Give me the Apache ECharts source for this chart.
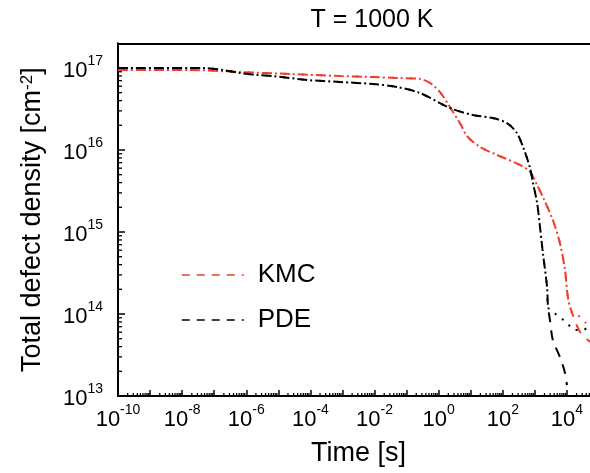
<!DOCTYPE html>
<html>
<head>
<meta charset="utf-8">
<script src="https://cdn.jsdelivr.net/npm/echarts@6/dist/echarts.min.js"></script>
<style>
  html, body { margin: 0; padding: 0; background: #fff; }
  #chart { width: 590px; height: 473px; }
</style>
</head>
<body>
<div id="chart"></div>
<script>
// ---- data ----
const kmcTime  = [1e-10, 1.78e-8, 6.31e-7, 2.29e-5, 8.32e-4, 8.91e-3, 5.01e-2, 0.263, 0.537, 1.10, 2.24, 4.57, 8.13, 19.5, 66, 347, 708, 1175, 1778, 3631, 6026, 8710, 10715, 14454, 25704, 52481];
const kmcValue = [9.46e16, 9.46e16, 8.93e16, 8.45e16, 7.98e16, 7.76e16, 7.55e16, 7.35e16, 6.56e16, 5.09e16, 3.34e16, 2.13e16, 1.44e16, 1.09e16, 8.69e15, 6.56e15, 5.40e15, 3.74e15, 2.67e15, 1.40e15, 7.35e14, 3.44e14, 1.61e14, 1.03e14, 6.03e13, 4.57e13];
// dotted KMC branch (same path, then levels off)
const kmcDotTime  = [1e-10, 1.78e-8, 6.31e-7, 2.29e-5, 8.32e-4, 8.91e-3, 5.01e-2, 0.263, 0.537, 1.10, 2.24, 4.57, 8.13, 19.5, 66, 347, 708, 1175, 1778, 3631, 6026, 8710, 10715, 14454, 20417, 37000, 52481];
const kmcDotValue = [9.46e16, 9.46e16, 8.93e16, 8.45e16, 7.98e16, 7.76e16, 7.55e16, 7.35e16, 6.56e16, 5.09e16, 3.34e16, 2.13e16, 1.44e16, 1.09e16, 8.69e15, 6.56e15, 5.40e15, 3.74e15, 2.67e15, 1.40e15, 7.35e14, 3.44e14, 1.61e14, 1.03e14, 1.00e14, 7.9e13, 7.76e13];

const pdeTime  = [1e-10, 4.47e-8, 1.86e-7, 6.31e-7, 2.14e-6, 6.76e-6, 7.76e-5, 8.32e-4, 8.91e-3, 5.01e-2, 0.263, 2.24, 11.7, 49, 135, 275, 427, 708, 871, 1175, 1445, 1778, 2399, 2570, 2951, 3631, 6026, 8710, 10000];
const pdeValue = [1.00e17, 1.00e17, 9.46e16, 8.69e16, 8.22e16, 7.98e16, 7.14e16, 6.75e16, 6.38e16, 5.86e16, 4.95e16, 3.25e16, 2.67e16, 2.45e16, 2.13e16, 1.61e16, 1.09e16, 6.03e15, 3.98e15, 2.26e15, 1.15e15, 5.55e14, 2.14e14, 1.22e14, 8.45e13, 4.82e13, 2.99e13, 1.91e13, 1.36e13];
// dotted PDE branch
const pdeDotTime  = [1e-10, 4.47e-8, 1.86e-7, 6.31e-7, 2.14e-6, 6.76e-6, 7.76e-5, 8.32e-4, 8.91e-3, 5.01e-2, 0.263, 2.24, 11.7, 49, 135, 275, 427, 708, 871, 1175, 1445, 1778, 2399, 2570, 6026, 10000, 17783, 31623, 52481];
const pdeDotValue = [1.00e17, 1.00e17, 9.46e16, 8.69e16, 8.22e16, 7.98e16, 7.14e16, 6.75e16, 6.38e16, 5.86e16, 4.95e16, 3.25e16, 2.67e16, 2.45e16, 2.13e16, 1.61e16, 1.09e16, 6.03e15, 3.98e15, 2.26e15, 1.15e15, 5.55e14, 2.14e14, 1.22e14, 9.19e13, 7.76e13, 6.38e13, 6.38e13, 7.35e13];

const xMin = 1e-10, xMax = 1e5;
const yMin = 1e13, yMax = 2e17;
const xDecades = [-10, -9, -8, -7, -6, -5, -4, -3, -2, -1, 0, 1, 2, 3, 4];
const yDecades = [13, 14, 15, 16];
const minorMultipliers = [2, 3, 4, 5, 6, 7, 8, 9];

const seriesTitle = 'T = 1000 K';
const xTitle = 'Time [s]';
const yTitle = 'Total defect density [cm{s|-2}]';

// ---- build ----
const FONT = '"Liberation Sans", Arial, sans-serif';
const RED = '#f23c2e';
const zip = (a, b) => a.map((v, i) => [v, b[i]]);

const xMinor = [];
xDecades.forEach(e => minorMultipliers.forEach(m => xMinor.push([m * Math.pow(10, e), 1e15])));
const yMinor = [];
yDecades.forEach(e => minorMultipliers.forEach(m => yMinor.push([1, m * Math.pow(10, e)])));

function powLabel(v) {
  const l = Math.log10(v);
  const e = Math.round(l);
  if (Math.abs(l - e) > 1e-6) return '';
  return e;
}
const richLabel = {
  b: { fontSize: 22, fontFamily: FONT, color: '#000', verticalAlign: 'bottom', lineHeight: 28 },
  s: { fontSize: 14, fontFamily: FONT, color: '#000', verticalAlign: 'top', lineHeight: 28 }
};

const chart = echarts.init(document.getElementById('chart'), null, { renderer: 'canvas' });
chart.setOption({
  animation: false,
  backgroundColor: '#fff',
  title: {
    text: seriesTitle, left: 367, top: 3, textAlign: 'center',
    textStyle: { fontFamily: FONT, fontSize: 25, fontWeight: 'normal', color: '#000' }
  },
  legend: {
    data: ['KMC', 'PDE'],
    orient: 'vertical', left: 176, top: 257,
    itemWidth: 62, itemHeight: 14, itemGap: 19,
    itemStyle: { opacity: 0 },
    lineStyle: { type: [8, 7], width: 1.5, opacity: 1 },
    textStyle: { fontFamily: FONT, fontSize: 26, color: '#000', padding: [0, 0, 0, 9] }
  },
  grid: { left: 118, top: 43.3, width: 481, height: 352.7, outerBoundsMode: 'none', containLabel: false },
  xAxis: [{
    type: 'log', logBase: 10, min: xMin, max: xMax, interval: 1,
    position: 'bottom',
    axisLine: { show: true, lineStyle: { color: '#000', width: 2 } },
    axisTick: { show: true, inside: true, length: 6, lineStyle: { color: '#000', width: 1.5 } },
    splitLine: { show: false },
    axisLabel: {
      margin: 7, fontFamily: FONT,
      formatter: v => { const e = powLabel(v); return (e === '' || e % 2 !== 0) ? '' : '{b|10}{s|' + e + '}'; },
      rich: richLabel
    },
    name: xTitle, nameLocation: 'middle', nameGap: 44,
    nameTextStyle: { fontFamily: FONT, fontSize: 27, color: '#000' }
  }, {
    type: 'log', logBase: 10, min: xMin, max: xMax, interval: 1,
    position: 'top',
    axisLine: { show: true, lineStyle: { color: '#000', width: 2 } },
    axisTick: { show: false }, axisLabel: { show: false }, splitLine: { show: false }
  }],
  yAxis: {
    type: 'log', logBase: 10, min: yMin, max: yMax, interval: 1,
    axisLine: { show: true, lineStyle: { color: '#000', width: 2 } },
    axisTick: { show: true, inside: true, length: 7, lineStyle: { color: '#000', width: 1.5 } },
    splitLine: { show: false },
    axisLabel: {
      margin: 15, fontFamily: FONT,
      formatter: v => { const e = powLabel(v); return e === '' ? '' : '{b|10}{s|' + e + '}'; },
      rich: richLabel
    },
    name: yTitle, nameLocation: 'middle', nameGap: 72, nameRotate: 90,
    nameTextStyle: {
      fontFamily: FONT, fontSize: 27, color: '#000',
      rich: { s: { fontFamily: FONT, fontSize: 17, color: '#000', verticalAlign: 'top' } }
    }
  },
  series: [
    { name: 'KMC', type: 'line', data: zip(kmcTime, kmcValue), symbol: 'none', showSymbol: false, smooth: 0.3,
      lineStyle: { color: RED, width: 2, type: [10, 8] }, itemStyle: { color: RED }, z: 3 },
    { name: 'KMC dotted', type: 'line', data: zip(kmcDotTime, kmcDotValue), symbol: 'none', smooth: 0.3,
      lineStyle: { color: RED, width: 2, type: [2, 7], dashOffset: 5 }, itemStyle: { color: RED }, z: 3 },
    { name: 'PDE', type: 'line', data: zip(pdeTime, pdeValue), symbol: 'none', showSymbol: false, smooth: 0.3,
      lineStyle: { color: '#000', width: 2, type: [10, 8] }, itemStyle: { color: '#000' }, z: 4 },
    { name: 'PDE dotted', type: 'line', data: zip(pdeDotTime, pdeDotValue), symbol: 'none', smooth: 0.3,
      lineStyle: { color: '#000', width: 2, type: [2, 7], dashOffset: 5 }, itemStyle: { color: '#000' }, z: 4 },
    { type: 'custom', silent: true, data: xMinor, z: 5, clip: false,
      renderItem: (p, api) => {
        const pt = api.coord([api.value(0), api.value(1)]);
        const yb = p.coordSys.y + p.coordSys.height;
        return { type: 'line', shape: { x1: pt[0], y1: yb, x2: pt[0], y2: yb - 3 },
                 style: { stroke: '#000', lineWidth: 1.3 } };
      } },
    { type: 'custom', silent: true, data: yMinor, z: 5, clip: false,
      renderItem: (p, api) => {
        const pt = api.coord([api.value(0), api.value(1)]);
        const xl = p.coordSys.x;
        return { type: 'line', shape: { x1: xl, y1: pt[1], x2: xl + 4, y2: pt[1] },
                 style: { stroke: '#000', lineWidth: 1.3 } };
      } }
  ]
});
</script>
</body>
</html>
